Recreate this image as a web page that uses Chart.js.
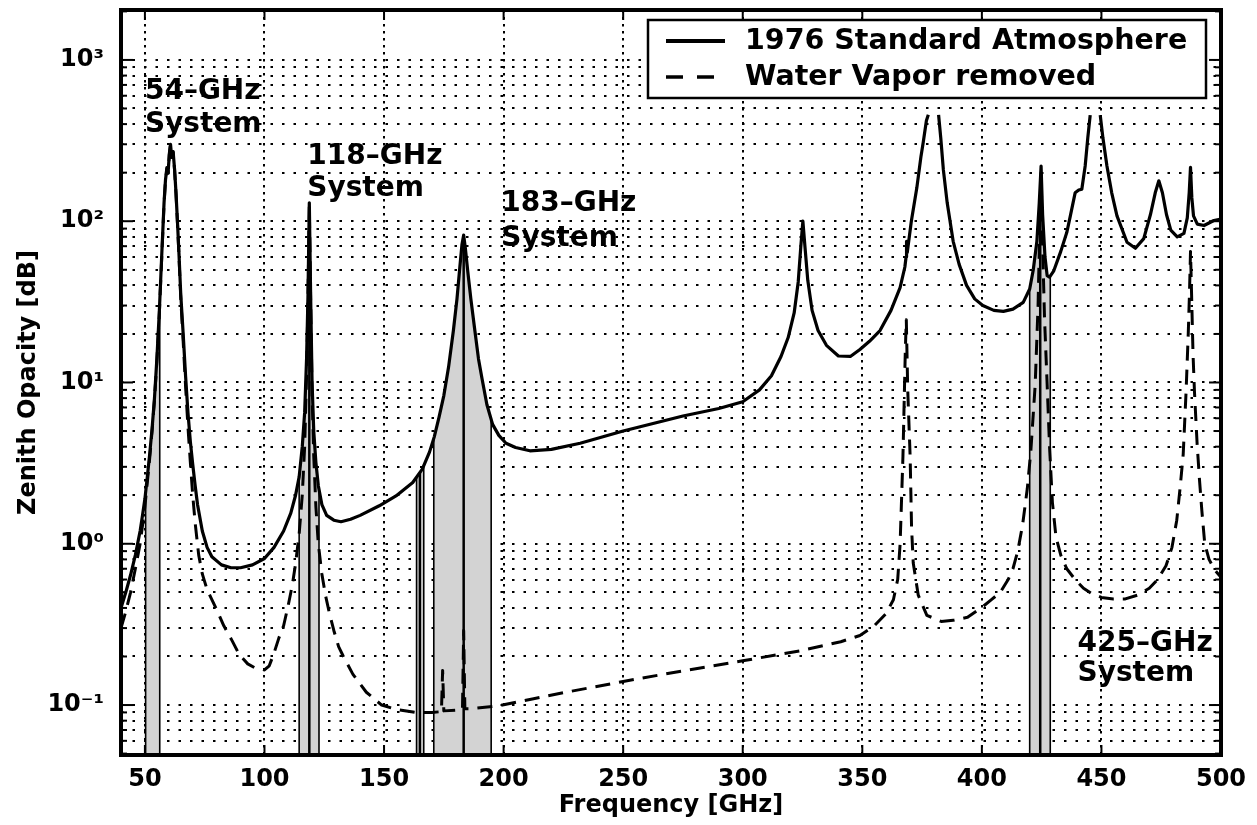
<!DOCTYPE html>
<html><head><meta charset="utf-8">
<script src="https://cdn.jsdelivr.net/npm/chart.js@4.4.1/dist/chart.umd.min.js"></script>
<style>html,body{margin:0;padding:0;background:#fff;}canvas{display:block;}</style>
</head><body>
<canvas id="c" width="1257" height="825"></canvas>
<script>
// ---------- data ----------
const solidFreq = [40,42,44,46,48,49,50,51,52,53,54,55,56,57,58,58.6,59.2,59.7,60.2,60.7,61.2,61.8,62.4,63,63.6,64.2,65,66,67,68,69,70,71,72,74,76,78,82,86,90,95,100,104,108,111,113,114.5,115.8,116.8,117.6,118.2,118.75,119.3,119.9,120.6,121.5,122.5,124,126,129,132,136,140,148,155,162,166,169,171,173,175,177,179,180.5,181.7,182.6,183.3,184,185,186.3,187.8,189.5,191,193,195.4,198,201,205,211,220,232,250,275,290,300,307,312,316,319,321.5,323.2,324.3,325.15,326,327.2,329,331.5,335,340,345,349,353,357.4,362,365.8,367.8,368.3,368.5,368.8,370.5,372.8,374.5,375.5,376.8,377.6,379.8,381.9,382.8,383.9,385.5,388,390.5,393.6,397,400.4,405,409,413,417.3,420,421.5,423,424,424.76,425.4,426.4,427.3,428.3,430,433,435.5,437,439,440.5,441.8,443.2,444.3,445.3,447.4,449.5,450.6,452.3,454.3,456.5,460.7,464.2,467.7,470.5,472.5,474,475.5,477.2,479,481.7,484.5,485.9,486.7,487.25,487.8,488.5,490.1,492.9,497,500];
const solidOpacity = [0.40,0.50,0.64,0.85,1.2,1.5,1.9,2.6,3.6,5.2,8,14,27,60,130,180,215,200,260,300,250,270,210,150,100,65,35,20,11,6.5,4.3,3.1,2.3,1.75,1.2,0.95,0.83,0.74,0.71,0.71,0.74,0.81,0.95,1.2,1.55,2.0,2.6,4,6.5,14,35,130,35,10,5,3.2,2.3,1.75,1.5,1.4,1.37,1.42,1.5,1.72,1.98,2.4,2.9,3.7,4.6,6.1,8.3,12.5,21,33,52,72,82,68,49,33,22,14,10.5,7.3,5.5,4.7,4.2,3.95,3.77,3.85,4.2,5.0,6.2,6.9,7.6,9.0,11,14.5,19,27,42,70,100,70,43,28,21,17,14.6,14.5,16,18,21,28,38.7,52,60,75,64,100,161,250,310,420,457,null,457,330,208,130,75,54,40,33,30,28,27.6,28.5,31.4,38,50,75,130,220,110,60,46,45,49,65,85,108,150,156,158,220,330,455,null,455,330,220,150,108,74,68,78,110,150,178,150,110,88,80,84,105,150,216,140,108,96,94,101,103];

const dryFreq = [40,42,44,46,48,49,50,51,52,53,54,55,56,57,58,58.6,59.2,59.7,60.2,60.7,61.2,61.8,62.4,63,63.6,64.2,65,66,67,68,69,70,71,72.5,74,76,78,80,83,86.5,89.5,93,96,100,102,104,106,108,110,111.6,113,114.5,115.8,116.8,117.6,118.2,118.75,119.3,119.9,120.6,121.5,122.5,124,125.5,127,129,131,133,137,142.6,149,155,163,170,174,174.5,175,180,182.8,183.3,183.8,186,198,212,226,250,275,300,324,341,349,355,360,363,364.8,365.8,367,368,368.4,369,370,370.6,371.3,373.4,377,383,388,394,400.6,404,407.7,411,413,415,417,419,420.5,422.3,423.5,424.2,424.76,425.3,426.2,427.3,428.3,429.5,431,433,435.5,439,442.5,446,450,455,460,465,470,473.5,477,479.5,481.5,483,484.2,485.4,486.3,486.8,487.25,487.7,488.3,488.9,490,491,492,493.2,495,497.3,500];
const dryOpacity = [0.30,0.38,0.50,0.70,1.0,1.3,1.7,2.4,3.4,5.0,7.8,13.5,26,58,128,178,212,198,258,298,248,268,208,148,98,63,33,18,9.5,5.3,3.2,2.0,1.35,0.85,0.65,0.52,0.45,0.39,0.31,0.25,0.205,0.18,0.17,0.165,0.175,0.21,0.26,0.31,0.42,0.55,0.75,1.15,2.0,4,11,33,125,33,8.5,3.5,1.7,1.0,0.65,0.48,0.38,0.29,0.23,0.2,0.155,0.12,0.1,0.094,0.09,0.09,0.091,0.164,0.092,0.093,0.094,0.29,0.095,0.095,0.099,0.109,0.12,0.14,0.163,0.188,0.217,0.247,0.27,0.31,0.37,0.45,0.6,0.99,3.5,16,24.5,9,3.5,1.26,0.76,0.48,0.36,0.33,0.335,0.35,0.41,0.45,0.5,0.6,0.7,0.9,1.3,2.2,3.8,9.7,30,90,200,80,25,9.7,4,1.8,1.1,0.85,0.7,0.6,0.53,0.49,0.465,0.455,0.455,0.48,0.53,0.6,0.73,0.95,1.4,2.3,3.6,8.8,20,35,65,35,15,8.8,4.2,2.5,1.6,1.0,0.8,0.69,0.62];

const seriesNames = ['1976 Standard Atmosphere', 'Water Vapor removed'];
const xTickValues = [50,100,150,200,250,300,350,400,450,500];
const yTickValues = [0.1,1,10,100,1000];
const yTickLabels = ['10\u207B\u00B9','10\u2070','10\u00B9','10\u00B2','10\u00B3'];
const xMin = 40, xMax = 500, yMin = 0.049, yMax = 2040;

// receiver pass bands [GHz]
const bandStart  = [50.3, 114.5, 163.6, 170.8, 420.0];
const bandEnd    = [56.2, 122.8, 166.6, 194.8, 428.6];
const bandCenter = [null, 118.75, 165.0, 183.3, 424.4];

const systemNames = ['54\u2013GHz','118\u2013GHz','183\u2013GHz','425\u2013GHz'];
const systemWord = 'System';
const xTitle = 'Frequency [GHz]';
const yTitle = 'Zenith Opacity [dB]';

// annotation anchors in data units (GHz, dB)
const systemAnchorX  = [50, 117.9, 199, 440];
const systemAnchorY1 = [575, 227, 116, 0.217];
const systemAnchorY2 = [359, 144, 70.5, 0.141];

// ---------- chart ----------
const FONT = '"DejaVu Sans", "Liberation Sans", sans-serif';
Chart.defaults.font.family = FONT;
Chart.defaults.color = '#000';

const isDecade = v => yTickValues.some(d => Math.abs(Math.log10(d) - Math.log10(v)) < 1e-6);

const decor = {
  id: 'decor',
  beforeDatasetsDraw(chart) {
    const {ctx, chartArea: a, scales: {x, y}} = chart;
    const pts = chart.getDatasetMeta(0).data;
    ctx.save();
    ctx.beginPath();
    ctx.rect(a.left, a.top, a.right - a.left, a.bottom - a.top);
    ctx.clip();
    ctx.beginPath();
    let first = null, last = null;
    pts.forEach(p => {
      if (p.skip) return;
      if (first === null) { ctx.moveTo(p.x, a.bottom); first = p; }
      ctx.lineTo(p.x, p.y);
      last = p;
    });
    ctx.lineTo(last.x, a.bottom);
    ctx.closePath();
    ctx.clip();
    bandStart.forEach((s, i) => {
      const x0 = x.getPixelForValue(s), x1 = x.getPixelForValue(bandEnd[i]);
      ctx.fillStyle = '#d3d3d3';
      ctx.fillRect(x0, a.top, x1 - x0, a.bottom - a.top);
      ctx.strokeStyle = '#000';
      ctx.lineWidth = 1.6;
      [x0, x1].forEach(px => { ctx.beginPath(); ctx.moveTo(px, a.top); ctx.lineTo(px, a.bottom); ctx.stroke(); });
      if (bandCenter[i] !== null) {
        const xc = x.getPixelForValue(bandCenter[i]);
        ctx.lineWidth = 2.5;
        ctx.beginPath(); ctx.moveTo(xc, a.top); ctx.lineTo(xc, a.bottom); ctx.stroke();
      }
    });
    ctx.restore();
  },
  afterDraw(chart) {
    const {ctx, chartArea: a, scales: {x, y}} = chart;
    const line = (x1, y1, x2, y2) => { ctx.beginPath(); ctx.moveTo(x1, y1); ctx.lineTo(x2, y2); ctx.stroke(); };
    ctx.save();
    ctx.strokeStyle = '#000';
    ctx.lineWidth = 2;
    y.ticks.forEach(t => {
      const py = y.getPixelForValue(t.value);
      const len = isDecade(t.value) ? 12 : 6;
      line(a.left, py, a.left + len, py);
      line(a.right, py, a.right - len, py);
    });
    x.ticks.forEach(t => {
      const px = x.getPixelForValue(t.value);
      line(px, a.bottom, px, a.bottom - 10);
      line(px, a.top, px, a.top + 10);
    });
    ctx.lineWidth = 4;
    ctx.strokeRect(a.left, a.top, a.right - a.left, a.bottom - a.top);

    // system annotations
    ctx.fillStyle = '#000';
    ctx.font = 'bold 28px ' + FONT;
    ctx.textAlign = 'left';
    ctx.textBaseline = 'alphabetic';
    systemNames.forEach((n, i) => {
      const px = x.getPixelForValue(systemAnchorX[i]);
      ctx.fillText(n, px, y.getPixelForValue(systemAnchorY1[i]));
      ctx.fillText(systemWord, px, y.getPixelForValue(systemAnchorY2[i]));
    });

    // legend
    const lw = 558, lh = 78;
    const lx = a.right - 15 - lw, ly = a.top + 10;
    ctx.fillStyle = '#fff';
    ctx.fillRect(lx, ly, lw, lh);
    ctx.lineWidth = 2.5;
    ctx.strokeRect(lx, ly, lw, lh);
    const rows = [ly + 21, ly + 57];
    ctx.lineWidth = 4;
    ctx.lineCap = 'butt';
    line(lx + 18, rows[0], lx + 77, rows[0]);
    ctx.lineWidth = 3.5;
    ctx.setLineDash([17, 14]);
    line(lx + 18, rows[1], lx + 67, rows[1]);
    ctx.setLineDash([]);
    ctx.fillStyle = '#000';
    ctx.font = 'bold 28.5px ' + FONT;
    ctx.textBaseline = 'middle';
    seriesNames.forEach((n, i) => ctx.fillText(n, lx + 97, rows[i] + 1));
    ctx.restore();
  }
};

new Chart(document.getElementById('c'), {
  type: 'line',
  data: {
    datasets: [
      {
        label: seriesNames[0],
        data: solidFreq.map((f, i) => ({x: f, y: solidOpacity[i]})),
        borderColor: '#000', borderWidth: 3.2, pointRadius: 0, tension: 0,
        borderJoinStyle: 'round', spanGaps: false, fill: false
      },
      {
        label: seriesNames[1],
        data: dryFreq.map((f, i) => ({x: f, y: dryOpacity[i]})),
        borderColor: '#000', borderWidth: 3, pointRadius: 0, tension: 0,
        borderDash: [15, 9], borderJoinStyle: 'round', fill: false
      }
    ]
  },
  options: {
    responsive: false,
    animation: false,
    devicePixelRatio: 1,
    layout: {padding: {top: 10, right: 36, left: 0, bottom: 0}},
    plugins: {legend: {display: false}, title: {display: false}, tooltip: {enabled: false}},
    scales: {
      x: {
        type: 'linear', min: xMin, max: xMax,
        afterBuildTicks: s => { s.ticks = xTickValues.map(v => ({value: v})); },
        afterFit: s => { s.height = 70; s.paddingLeft = 0; s.paddingRight = 0; },
        ticks: {autoSkip: false, maxRotation: 0, padding: 10, color: '#000',
                font: {family: FONT, size: 24, weight: 'bold'}, callback: v => String(v)},
        grid: {color: '#000', lineWidth: 2, drawTicks: false},
        border: {display: false, dash: [2.5, 4.5]},
        title: {display: true, text: xTitle, color: '#000',
                font: {family: FONT, size: 24, weight: 'bold'}, padding: {top: 0, bottom: 5}}
      },
      y: {
        type: 'logarithmic', min: yMin, max: yMax,
        afterBuildTicks: s => {
          const t = [];
          for (let e = Math.floor(Math.log10(yMin)); e <= Math.ceil(Math.log10(yMax)); e++) {
            for (let m = 1; m <= 9; m++) {
              const v = parseFloat((m * Math.pow(10, e)).toPrecision(6));
              if (v >= yMin && v <= yMax) t.push({value: v});
            }
          }
          s.ticks = t;
        },
        afterFit: s => { s.width = 121; s.paddingTop = 0; s.paddingBottom = 0; },
        ticks: {autoSkip: false, padding: 17, color: '#000',
                font: {family: FONT, size: 24, weight: 'bold'},
                callback: v => {
                  const k = yTickValues.findIndex(d => Math.abs(Math.log10(d) - Math.log10(v)) < 1e-6);
                  return k >= 0 ? yTickLabels[k] : '';
                }},
        grid: {color: '#000', lineWidth: 2, drawTicks: false},
        border: {display: false, dash: [2.5, 9]},
        title: {display: true, text: yTitle, color: '#000',
                font: {family: FONT, size: 24, weight: 'bold'}, padding: {top: 14, bottom: 0}}
      }
    }
  },
  plugins: [decor]
});
</script>
</body></html>
